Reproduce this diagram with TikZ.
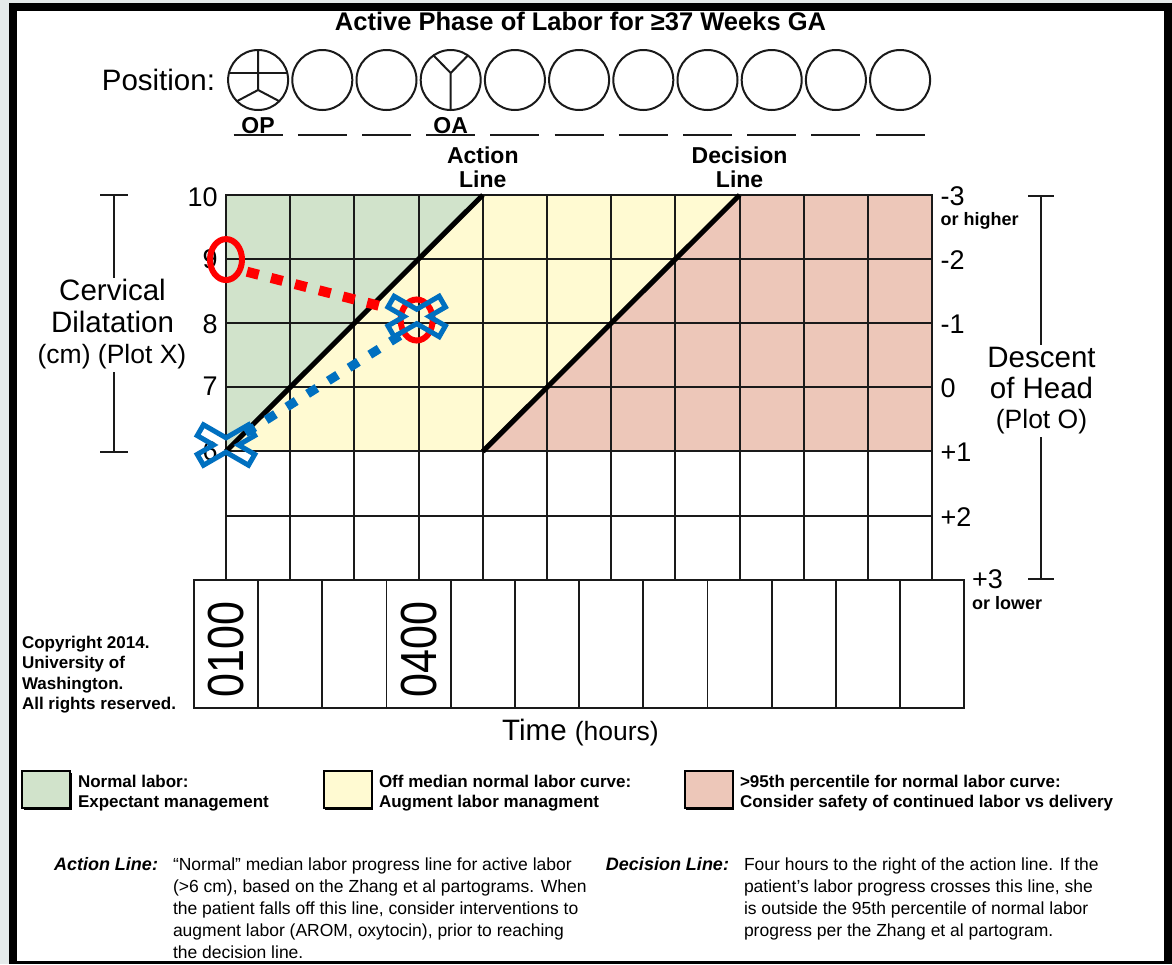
\documentclass[tikz,border=0pt]{standalone}
\usepackage{fontspec}
\setmainfont{Liberation Sans}
\usetikzlibrary{shapes.geometric,shadows}

\definecolor{pageback}{HTML}{E4EAEA}
\definecolor{zonegreen}{HTML}{D1E3CB}
\definecolor{zoneyellow}{HTML}{FFFAD2}
\definecolor{zonepink}{HTML}{EDC7B9}
\definecolor{plotred}{HTML}{FF0000}
\definecolor{plotblue}{HTML}{0070C0}
\definecolor{ink}{HTML}{1A1A1A}

\tikzset{
  every node/.style={inner sep=0pt, outer sep=0pt},
  titletext/.style={font=\bfseries\fontsize{25.5}{28}\selectfont},
  axistext/.style={font=\fontsize{29.5}{33}\selectfont},
  axissmall/.style={font=\fontsize{26.5}{30}\selectfont},
  ticktext/.style={font=\fontsize{27}{30}\selectfont},
  smallbold/.style={font=\bfseries\fontsize{18}{20}\selectfont},
  notebold/.style={font=\bfseries\fontsize{17}{20}\selectfont},
  keytext/.style={font=\bfseries\itshape\fontsize{18}{21}\selectfont},
  bodytext/.style={font=\fontsize{17.5}{21}\selectfont},
  linelabel/.style={font=\bfseries\fontsize{23}{24}\selectfont, align=center},
  oplabel/.style={font=\bfseries\fontsize{23}{24}\selectfont},
  gridline/.style={draw=ink, line width=2pt, line cap=rect},
  refline/.style={draw=black, line width=5pt},
  underrule/.style={draw=ink, line width=2pt},
  bracket/.style={draw=ink, line width=2pt},
  poscircle/.style={circle, draw=ink, line width=2pt, minimum size=60pt},
  treeline/.style={draw=ink, line width=2pt},
  timecell/.style={rectangle, draw=ink, line width=1.8pt, minimum width=64.2pt, minimum height=128.2pt},
  timestamp/.style={font=\fontsize{43}{43}\selectfont, rotate=90},
  redring/.style={ellipse, draw=plotred, line width=6pt, minimum width=32pt, minimum height=41pt},
  reddots/.style={draw=plotred, line width=10pt, dash pattern=on 12pt off 12.8pt},
  bluedots/.style={draw=plotblue, line width=9pt, dash pattern=on 11pt off 13.5pt},
  legendbox/.style={rectangle, draw=black, line width=2pt, minimum width=48pt, minimum height=37pt,
    drop shadow={shadow xshift=1.5pt, shadow yshift=-1.5pt, fill=black, opacity=1}},
  crossmark/.pic={
    \draw[plotblue, line width=5pt, line join=miter]
      (28.76pt,9.39pt) -- (22.51pt,20.21pt) -- (0pt,7.22pt) -- (-22.51pt,20.21pt)
      -- (-28.76pt,9.39pt) -- (-12.5pt,0pt) -- (-28.76pt,-9.39pt) -- (-22.51pt,-20.21pt)
      -- (0pt,-7.22pt) -- (22.51pt,-20.21pt) -- (28.76pt,-9.39pt) -- (12.5pt,0pt) -- cycle;
  }
}

\begin{document}
\begin{tikzpicture}[x=1pt, y=-1pt]
\useasboundingbox (0,0) rectangle (1172,964);

% sheet and its frame
\fill[pageback] (0,0) rectangle (1172,964);
\fill[black] (9,3) rectangle (1172,964);
\fill[white] (17,11) rectangle (1164,961);

% heading
\node[titletext, anchor=base] (title) at (580.5,30) {Active Phase of Labor for ≥37 Weeks GA};

% fetal head position row
\node[axistext, anchor=east] (poslabel) at (215,80) {Position:};
\foreach \i in {0,...,10} {
  \node[poscircle] (pos\i) at ({258.1+64.2*\i},80) {};
  \draw[underrule] ({233.6+64.2*\i},135) -- ({282.6+64.2*\i},135);
}
% occiput posterior sketch
\draw[treeline] ([yshift=30pt]pos0.center) -- ([yshift=-10pt]pos0.center) -- ([shift={(225:30pt)}]pos0.center);
\draw[treeline] ([yshift=-10pt]pos0.center) -- ([shift={(315:30pt)}]pos0.center);
\draw[treeline] ([shift={(-29.5pt,7pt)}]pos0.center) -- ([shift={(29.5pt,7pt)}]pos0.center);
% occiput anterior sketch
\draw[treeline] ([yshift=-30pt]pos3.center) -- ([yshift=7pt]pos3.center) -- ([shift={(125:30pt)}]pos3.center);
\draw[treeline] ([yshift=7pt]pos3.center) -- ([shift={(55:30pt)}]pos3.center);
\node[oplabel, anchor=base] (opname) at (258.1,133.5) {OP};
\node[oplabel, anchor=base] (oaname) at (450.7,133.5) {OA};

% partogram grid: one unit = one hour across, one centimetre down
\begin{scope}[shift={(226,195)}, x=64.2pt, y=-64.1pt]
  \fill[zonegreen] (0,0) -- (4,0) -- (0,4) -- cycle;
  \fill[zoneyellow] (4,0) -- (8,0) -- (4,4) -- (0,4) -- cycle;
  \fill[zonepink] (8,0) -- (11,0) -- (11,4) -- (4,4) -- cycle;
  \foreach \c in {0,...,11} \draw[gridline] (\c,0) -- (\c,6);
  \foreach \r in {0,...,6} \draw[gridline] (0,\r) -- (11,\r);
  \draw[refline] (0,4) -- (4,0);
  \draw[refline] (4,4) -- (8,0);

  \node[linelabel, anchor=south] (actionlabel) at (4,-0.11) {Action\\Line};
  \node[linelabel, anchor=south] (decisionlabel) at (8,-0.11) {Decision\\Line};

  % dilatation scale
  \foreach \v/\r in {10/0.03,9/1.0,8/2.02,7/2.99,6/4.0}
    \node[ticktext, anchor=east] (dil\v) at (-0.13,\r) {\v};

  % station scale
  \node[ticktext, anchor=west] (stm3) at (11.13,0.02) {-3};
  \node[smallbold, anchor=west] (sthigh) at (11.13,0.41) {or higher};
  \node[ticktext, anchor=west] (stm2) at (11.13,1.02) {-2};
  \node[ticktext, anchor=west] (stm1) at (11.13,2.02) {-1};
  \node[ticktext, anchor=west] (st0) at (11.13,3.01) {0};
  \node[ticktext, anchor=west] (stp1) at (11.13,4.01) {+1};
  \node[ticktext, anchor=west] (stp2) at (11.13,5.02) {+2};
  \node[ticktext, anchor=west] (stp3) at (11.62,6.0) {+3};
  \node[smallbold, anchor=west] (stlow) at (11.62,6.36) {or lower};

  % hourly time cells
  \foreach \i in {0,...,11} \node[timecell] (time\i) at (\i,7) {};
  \node[timestamp] (stamp1) at ([yshift=-6pt]time0.center) {\scalebox{1}[1.18]{0100}};
  \node[timestamp] (stamp4) at ([yshift=-6pt]time3.center) {\scalebox{1}[1.18]{0400}};

  % plotted observations
  \coordinate (redstart) at (0.327,1.197);
  \coordinate (redend) at (2.414,1.736);
  \coordinate (bluestart) at (0.302,3.713);
  \coordinate (blueend) at (2.788,2.145);
  \coordinate (X1) at (0,3.9);
  \coordinate (X2) at (2.97,1.895);
  \draw[reddots] (redstart) -- (redend);
  \draw[bluedots] (bluestart) -- (blueend);
  \node[redring] (O1) at (0,1.007) {};
  \node[redring] (O2) at (2.97,1.95) {};
  \pic at (X1) {crossmark};
  \pic at (X2) {crossmark};
\end{scope}

% left axis caption with bracket
\node[axistext, anchor=base] (cerv1) at (112.5,300.5) {Cervical};
\node[axistext, anchor=base] (cerv2) at (112.5,332.5) {Dilatation};
\node[axissmall, anchor=base] (cerv3) at (112,363) {(cm) (Plot X)};
\draw[bracket] (100,195) -- (128,195);
\draw[bracket] (114,195) -- (114,278);
\draw[bracket] (114,372) -- (114,452);
\draw[bracket] (100,452) -- (128,452);

% right axis caption with bracket
\node[axistext, anchor=base] (desc1) at (1041.5,367) {Descent};
\node[axistext, anchor=base] (desc2) at (1041.5,398) {of Head};
\node[axissmall, anchor=base] (desc3) at (1041.5,428) {(Plot O)};
\draw[bracket] (1028,196) -- (1054,196);
\draw[bracket] (1041,196) -- (1041,345);
\draw[bracket] (1041,437) -- (1041,579);
\draw[bracket] (1028,579) -- (1054,579);

% time axis caption
\node[anchor=base] (timelabel) at (580.5,740.5) {\fontsize{29.5}{33}\selectfont Time \fontsize{26.5}{30}\selectfont(hours)};

% copyright notice
\node[notebold, anchor=base west] (copy1) at (22,648) {Copyright 2014.};
\node[notebold, anchor=base west] (copy2) at (22,668) {University of};
\node[notebold, anchor=base west] (copy3) at (22,689) {Washington.};
\node[notebold, anchor=base west] (copy4) at (22,709) {All rights reserved.};

% colour key
\node[legendbox, fill=zonegreen] (keygreen) at (46,789.5) {};
\node[notebold, anchor=base west] (keygreen1) at (78,787) {Normal labor:};
\node[notebold, anchor=base west] (keygreen2) at (78,807) {Expectant management};
\node[legendbox, fill=zoneyellow] (keyyellow) at (347.5,789.5) {};
\node[notebold, anchor=base west] (keyyellow1) at (379,787) {Off median normal labor curve:};
\node[notebold, anchor=base west] (keyyellow2) at (379,807) {Augment labor managment};
\node[legendbox, fill=zonepink] (keypink) at (708.5,789.5) {};
\node[notebold, anchor=base west] (keypink1) at (740,787) {>95th percentile for normal labor curve:};
\node[notebold, anchor=base west] (keypink2) at (740,807) {Consider safety of continued labor vs delivery};

% explanatory notes
\node[keytext, anchor=base east] (actionkey) at (158,870) {Action Line:};
\node[bodytext, anchor=base west] (an1) at (173,870) {“Normal” median labor progress line for active labor};
\node[bodytext, anchor=base west] (an2) at (173,892) {(>6 cm), based on the Zhang et al partograms. When};
\node[bodytext, anchor=base west] (an3) at (173,914) {the patient falls off this line, consider interventions to};
\node[bodytext, anchor=base west] (an4) at (173,936) {augment labor (AROM, oxytocin), prior to reaching};
\node[bodytext, anchor=base west] (an5) at (173,958) {the decision line.};

\node[keytext, anchor=base east] (decisionkey) at (729,870) {Decision Line:};
\node[bodytext, anchor=base west] (dn1) at (744,870) {Four hours to the right of the action line. If the};
\node[bodytext, anchor=base west] (dn2) at (744,892) {patient’s labor progress crosses this line, she};
\node[bodytext, anchor=base west] (dn3) at (744,914) {is outside the 95th percentile of normal labor};
\node[bodytext, anchor=base west] (dn4) at (744,936) {progress per the Zhang et al partogram.};

% bottom edge of the frame drawn over the last line
\fill[black] (17,961) rectangle (1164,964);
\end{tikzpicture}
\end{document}
